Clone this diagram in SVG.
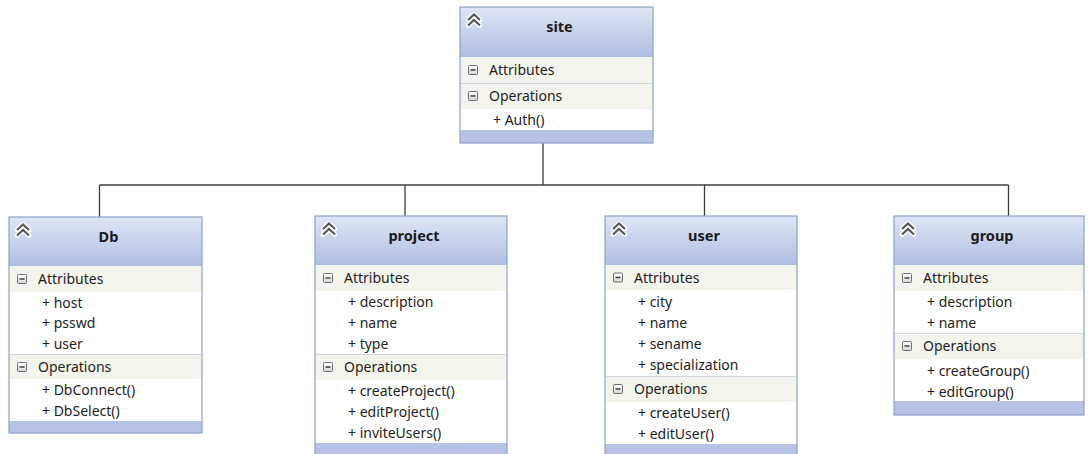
<svg xmlns="http://www.w3.org/2000/svg" width="1089" height="454" viewBox="0 0 1089 454">
  <style>
    .frame { fill: none; stroke: #8ea2cc; stroke-width: 1.2; }
    .head { fill: url(#headGrad); }
    .band { fill: #f3f4ec; }
    .body { fill: #ffffff; }
    .foot { fill: #b6c3e5; }
    .sep { stroke: #d6d8de; stroke-width: 1; }
    .title { font-family: "Noto Sans", "Open Sans", sans-serif; font-size: 14.5px; font-weight: bold; fill: #1a1a1a; text-anchor: middle; }
    .sec { font-family: "Noto Sans", "Open Sans", sans-serif; font-size: 14px; fill: #1e1e1e; }
    .item { font-family: "Noto Sans", "Open Sans", sans-serif; font-size: 14px; fill: #1e1e1e; }
    .wire { fill: none; stroke: #3c3c3c; stroke-width: 1.3; }
  </style>
  <defs>
    <linearGradient id="headGrad" x1="0" y1="0" x2="0" y2="1">
      <stop offset="0" stop-color="#e0e6f5"/>
      <stop offset="1" stop-color="#afbee2"/>
    </linearGradient>
    <linearGradient id="boxGrad" x1="0" y1="0" x2="0" y2="1">
      <stop offset="0" stop-color="#ffffff"/>
      <stop offset="1" stop-color="#d6d6d6"/>
    </linearGradient>
    <!-- collapse toggle: double chevron -->
    <symbol id="collapse" viewBox="0 0 16 16" width="16" height="16" overflow="visible">
      <polyline points="2,8 8,2.5 14,8" fill="none" stroke="#ffffff" stroke-width="4.5" stroke-linejoin="round" stroke-linecap="round"/>
      <polyline points="2,13.5 8,8 14,13.5" fill="none" stroke="#ffffff" stroke-width="4.5" stroke-linejoin="round" stroke-linecap="round"/>
      <polyline points="2,8 8,2.5 14,8" fill="none" stroke="#555555" stroke-width="2.1"/>
      <polyline points="2,13.5 8,8 14,13.5" fill="none" stroke="#555555" stroke-width="2.1"/>
    </symbol>
    <!-- compartment toggle: boxed minus -->
    <symbol id="minus" viewBox="0 0 10 10" width="10" height="10" overflow="visible">
      <rect x="0.5" y="0.5" width="9" height="9" rx="1" fill="url(#boxGrad)" stroke="#6f6f6f" stroke-width="1"/>
      <line x1="2.5" y1="5" x2="7.5" y2="5" stroke="#333333" stroke-width="1.4"/>
    </symbol>
  </defs>

  <rect width="1089" height="454" fill="#ffffff"/>

  <!-- connectors -->
  <g id="connectors">
    <path class="wire" d="M543,143 V185"/>
    <path class="wire" d="M99.5,185 H1008.5"/>
    <path class="wire" d="M99.5,185 V217"/>
    <path class="wire" d="M405,185 V216"/>
    <path class="wire" d="M704.5,185 V216"/>
    <path class="wire" d="M1008.5,185 V216"/>
  </g>

  <!-- site -->
  <g id="site" transform="translate(460,7)">
    <rect class="head" x="0" y="0" width="193" height="50"/>
    <rect class="band" x="0" y="50" width="193" height="52"/>
    <line class="sep" x1="0" y1="76.5" x2="193" y2="76.5"/>
    <rect class="body" x="0" y="102" width="193" height="21"/>
    <rect class="foot" x="0" y="123" width="193" height="13"/>
    <use href="#collapse" x="6" y="5"/>
    <text class="title" x="99.5" y="25">site</text>
    <use href="#minus" x="8" y="58"/>
    <text class="sec" x="29" y="68">Attributes</text>
    <use href="#minus" x="8" y="84"/>
    <text class="sec" x="29" y="94">Operations</text>
    <text class="item" x="33" y="117.5">+ Auth()</text>
    <rect class="frame" x="0" y="0" width="193" height="136"/>
  </g>

  <!-- Db -->
  <g id="db" transform="translate(9,217)">
    <rect class="head" x="0" y="0" width="193" height="49"/>
    <rect class="band" x="0" y="49" width="193" height="26"/>
    <rect class="body" x="0" y="75" width="193" height="62"/>
    <line class="sep" x1="0" y1="137.5" x2="193" y2="137.5"/>
    <rect class="band" x="0" y="138" width="193" height="24"/>
    <rect class="body" x="0" y="162" width="193" height="42"/>
    <rect class="foot" x="0" y="204" width="193" height="12"/>
    <use href="#collapse" x="6" y="5"/>
    <text class="title" x="99.5" y="25">Db</text>
    <use href="#minus" x="8" y="57"/>
    <text class="sec" x="29" y="67">Attributes</text>
    <text class="item" x="33" y="90.5">+ host</text>
    <text class="item" x="33" y="111">+ psswd</text>
    <text class="item" x="33" y="131.5">+ user</text>
    <use href="#minus" x="8" y="145"/>
    <text class="sec" x="29" y="155">Operations</text>
    <text class="item" x="33" y="177.5">+ DbConnect()</text>
    <text class="item" x="33" y="198.5">+ DbSelect()</text>
    <rect class="frame" x="0" y="0" width="193" height="216"/>
  </g>

  <!-- project -->
  <g id="project" transform="translate(315,216)">
    <rect class="head" x="0" y="0" width="192" height="49"/>
    <rect class="band" x="0" y="49" width="192" height="26"/>
    <rect class="body" x="0" y="75" width="192" height="63"/>
    <line class="sep" x1="0" y1="138.5" x2="192" y2="138.5"/>
    <rect class="band" x="0" y="139" width="192" height="25"/>
    <rect class="body" x="0" y="164" width="192" height="63"/>
    <rect class="foot" x="0" y="227" width="192" height="13"/>
    <use href="#collapse" x="6" y="5"/>
    <text class="title" x="99" y="25">project</text>
    <use href="#minus" x="8" y="57"/>
    <text class="sec" x="29" y="67">Attributes</text>
    <text class="item" x="33" y="91">+ description</text>
    <text class="item" x="33" y="112">+ name</text>
    <text class="item" x="33" y="133">+ type</text>
    <use href="#minus" x="8" y="146"/>
    <text class="sec" x="29" y="156">Operations</text>
    <text class="item" x="33" y="179.5">+ createProject()</text>
    <text class="item" x="33" y="200.5">+ editProject()</text>
    <text class="item" x="33" y="221.5">+ inviteUsers()</text>
    <rect class="frame" x="0" y="0" width="192" height="240"/>
  </g>

  <!-- user -->
  <g id="user" transform="translate(605,216)">
    <rect class="head" x="0" y="0" width="192" height="49"/>
    <rect class="band" x="0" y="49" width="192" height="25"/>
    <rect class="body" x="0" y="74" width="192" height="86"/>
    <line class="sep" x1="0" y1="160.5" x2="192" y2="160.5"/>
    <rect class="band" x="0" y="161" width="192" height="25"/>
    <rect class="body" x="0" y="186" width="192" height="42"/>
    <rect class="foot" x="0" y="228" width="192" height="13"/>
    <use href="#collapse" x="6" y="5"/>
    <text class="title" x="99" y="25">user</text>
    <use href="#minus" x="8" y="56.5"/>
    <text class="sec" x="29" y="66.5">Attributes</text>
    <text class="item" x="33" y="91">+ city</text>
    <text class="item" x="33" y="112">+ name</text>
    <text class="item" x="33" y="133">+ sename</text>
    <text class="item" x="33" y="153.5">+ specialization</text>
    <use href="#minus" x="8" y="168"/>
    <text class="sec" x="29" y="178">Operations</text>
    <text class="item" x="33" y="202">+ createUser()</text>
    <text class="item" x="33" y="223">+ editUser()</text>
    <rect class="frame" x="0" y="0" width="192" height="241"/>
  </g>

  <!-- group -->
  <g id="group" transform="translate(894,216)">
    <rect class="head" x="0" y="0" width="190" height="49"/>
    <rect class="band" x="0" y="49" width="190" height="26"/>
    <rect class="body" x="0" y="75" width="190" height="42"/>
    <line class="sep" x1="0" y1="117.5" x2="190" y2="117.5"/>
    <rect class="band" x="0" y="118" width="190" height="25"/>
    <rect class="body" x="0" y="143" width="190" height="42"/>
    <rect class="foot" x="0" y="185" width="190" height="14"/>
    <use href="#collapse" x="6" y="5"/>
    <text class="title" x="98" y="25">group</text>
    <use href="#minus" x="8" y="57"/>
    <text class="sec" x="29" y="67">Attributes</text>
    <text class="item" x="33" y="91">+ description</text>
    <text class="item" x="33" y="112">+ name</text>
    <use href="#minus" x="8" y="125"/>
    <text class="sec" x="29" y="135">Operations</text>
    <text class="item" x="33" y="159.5">+ createGroup()</text>
    <text class="item" x="33" y="180.5">+ editGroup()</text>
    <rect class="frame" x="0" y="0" width="190" height="199"/>
  </g>
</svg>
